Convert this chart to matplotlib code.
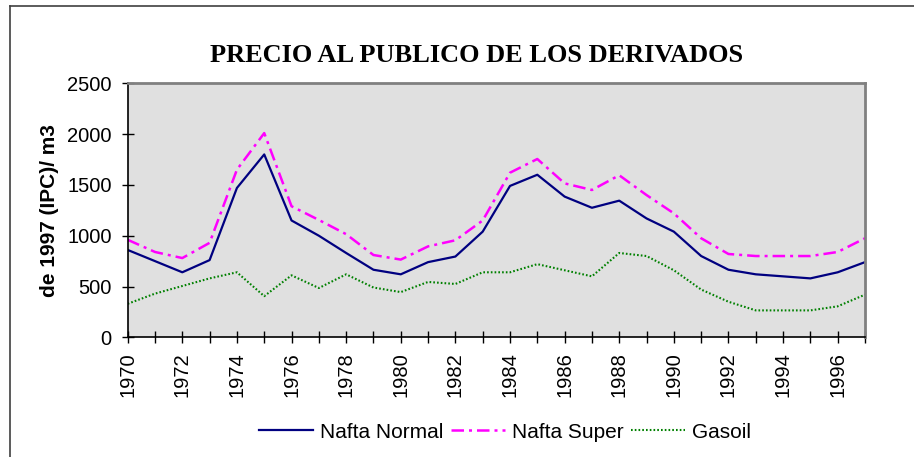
import matplotlib.pyplot as plt
from matplotlib.lines import Line2D

# Datos (precios en $ de 1997 por m3)
anios = list(range(1970, 1998))
nafta_normal = [860, 750, 640, 760, 1470, 1800, 1150, 1000, 830, 665,
                620, 740, 795, 1040, 1490, 1600, 1385, 1275, 1345, 1170,
                1040, 800, 665, 620, 600, 580, 640, 740]
nafta_super = [960, 840, 780, 930, 1650, 2010, 1290, 1155, 1015, 810,
               765, 895, 955, 1150, 1620, 1755, 1515, 1450, 1595, 1400,
               1220, 975, 820, 800, 800, 800, 840, 975]
gasoil = [330, 430, 505, 580, 640, 405, 610, 485, 620, 490,
          445, 545, 525, 640, 640, 720, 660, 600, 830, 800,
          660, 470, 350, 265, 265, 265, 305, 420]

plt.rcParams['font.family'] = ['Liberation Sans', 'DejaVu Sans']

fig = plt.figure(figsize=(9.14, 4.57), dpi=100)
ax = fig.add_axes([0.1397, 0.2619, 0.8067, 0.5558])
ax.set_facecolor('#E0E0E0')

ax.plot(anios, nafta_normal, color='#000080', lw=1.6, label='Nafta Normal')
ax.plot(anios, nafta_super, color='#FF00FF', lw=1.8, dashes=(5, 2, 1.2, 2),
        label='Nafta Super')
ax.plot(anios, gasoil, color='#008000', lw=1.5, dashes=(0.8, 1.0),
        label='Gasoil')

ax.set_xlim(1970, 1997)
ax.set_ylim(0, 2500)
ax.set_yticks(range(0, 2501, 500))
ax.set_xticks(anios)
ax.set_xticklabels([str(a) if a % 2 == 0 else '' for a in anios], rotation=90)
ax.tick_params(axis='both', direction='inout', length=9, width=1,
               labelsize=14.5)
ax.tick_params(axis='y', pad=7)
ax.tick_params(axis='x', pad=6)

# Bordes del area de grafico
for lado in ['left', 'bottom']:
    ax.spines[lado].set_color('black')
    ax.spines[lado].set_linewidth(1.2)
for lado in ['top', 'right']:
    ax.spines[lado].set_color('#808080')
    ax.spines[lado].set_linewidth(2)

ax.set_ylabel('de 1997 (IPC)/ m3', fontsize=15, fontweight='bold', labelpad=6)

fig.text(477 / 914, 1 - 55 / 457, 'PRECIO AL PUBLICO DE LOS DERIVADOS',
         ha='center', va='center', fontsize=19, fontweight='bold',
         family=['Liberation Serif', 'DejaVu Serif'])

fig.legend(loc='center', bbox_to_anchor=(505 / 914, 1 - 432 / 457), ncol=3,
           frameon=False, fontsize=15, handlelength=2.6, handletextpad=0.35,
           columnspacing=0.35)

# Marco exterior del grafico
fig.add_artist(Line2D([10 / 914, 10 / 914], [0, 1 - 6 / 457],
                      color='#404040', lw=1.2))
fig.add_artist(Line2D([10 / 914, 1], [1 - 6 / 457, 1 - 6 / 457],
                      color='#404040', lw=1.2))

plt.savefig('out.png', dpi=100)
plt.close()
